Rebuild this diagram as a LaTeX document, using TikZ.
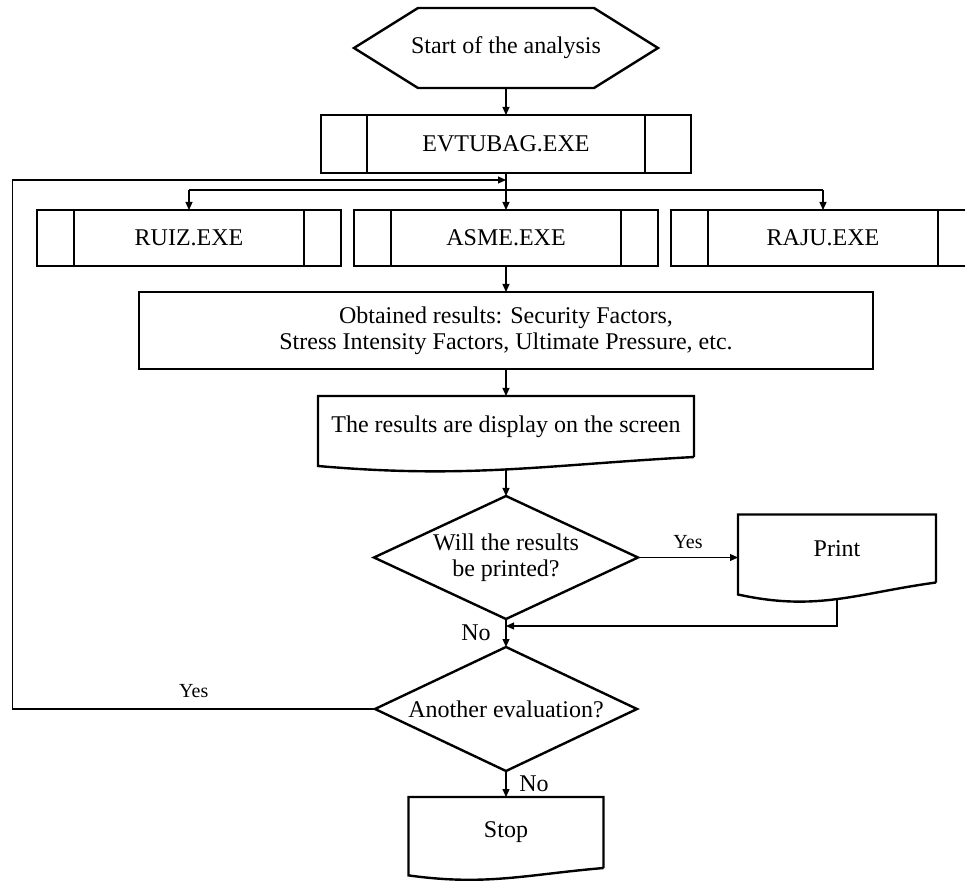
\documentclass[tikz,border=0pt]{standalone}
\usepackage{fontspec}
\setmainfont{Liberation Serif}
\usetikzlibrary{arrows.meta, positioning, shapes.geometric, calc}

% hexagon outline round a (blank) node
\newcommand{\hexframe}[2]{%
  \draw[frameline] (#1.west) -- ([xshift=#2]#1.north west) -- ([xshift=-#2]#1.north east)
    -- (#1.east) -- ([xshift=-#2]#1.south east) -- ([xshift=#2]#1.south west) -- cycle;}
% document outline, wavy bottom edge
\newcommand{\docframe}[2]{%
  \draw[frameline] (#1.south east) -- (#1.north east) -- (#1.north west) -- ([yshift=-#2]#1.south west)
    .. controls ($(#1.south west)!0.4!(#1.south east)+(0,-2.45*#2)$) and ($(#1.south west)!0.6!(#1.south east)+(0,-0.9*#2)$) .. (#1.south east)
    coordinate[pos=0.5] (#1-out);}

\begin{document}
\begin{tikzpicture}[
    node distance=13.5pt and 6.5pt,
    every node/.style={font=\fontsize{12}{13}\selectfont},
    frameline/.style={line width=1.2pt, line join=miter},
    hexnode/.style={minimum width=152pt, minimum height=40pt, inner sep=0pt, outer sep=0pt},
    docnode/.style={inner sep=0pt, outer sep=0pt},
    subproc/.style={draw, line width=1.2pt, outer sep=0pt, minimum width=152pt, minimum height=28pt,
        path picture={\draw[line width=0.9pt] ([xshift=#1]path picture bounding box.north west) -- ([xshift=#1]path picture bounding box.south west)
            ([xshift=-#1]path picture bounding box.north east) -- ([xshift=-#1]path picture bounding box.south east);}},
    process/.style={draw, line width=1.2pt, outer sep=0pt, minimum width=367pt, minimum height=38.5pt, align=center},
    decision/.style={diamond, draw, line width=1.2pt, outer sep=0pt, aspect=2.15, inner sep=0pt, align=center},
    conn/.style={line width=0.6pt},
    arrow/.style={conn, -{Triangle[length=4pt, width=3.5pt]}},
    yeslabel/.style={font=\fontsize{10}{12}\selectfont}
]
    \useasboundingbox (0,0) rectangle (482.5pt,-441pt);
    \clip (0,0) rectangle (482.5pt,-441pt);

    % Nodes
    \node[hexnode] (start) at (253pt,-24pt) {Start of the analysis};
    \hexframe{start}{32pt}
    \node[subproc=23pt, minimum width=185pt, minimum height=29pt] (evtubag) [below=of start] {EVTUBAG.EXE};
    \node[subproc=18.5pt] (asme) [below=18.5pt of evtubag] {ASME.EXE};
    \node[subproc=18.5pt] (ruiz) [left=of asme] {RUIZ.EXE};
    \node[subproc=18.5pt] (raju) [right=of asme] {RAJU.EXE};
    \node[process] (results) [below=13pt of asme] {Obtained results: Security Factors,\\Stress Intensity Factors, Ultimate Pressure, etc.};
    \node[docnode, minimum width=188pt, minimum height=30.5pt] (display) [below=of results] {The results are display on the screen};
    \docframe{display}{4.5pt}
    \node[decision, minimum width=132pt, minimum height=61.5pt] (printq) [below=19.5pt of display] {Will the results\\be printed?};
    \node[docnode, minimum width=99pt, minimum height=34pt] (print) [right=50pt of printq, yshift=4.5pt] {Print};
    \docframe{print}{6pt}
    \node[decision, minimum width=131pt, minimum height=62pt] (againq) [below=14pt of printq] {Another evaluation?};
    \node[docnode, minimum width=97.5pt, minimum height=35.5pt] (stop) [below=13pt of againq] {Stop};
    \docframe{stop}{3.7pt}

    \coordinate (loopin) at ([yshift=-3.5pt]evtubag.south);
    \coordinate (split) at ([yshift=-8.5pt]evtubag.south);
    \coordinate (merge) at ([yshift=-3.5pt]printq.south);
    \coordinate (back) at (6.25pt,0);

    % Arrows
    \draw[arrow] (start) -- (evtubag);
    \draw[arrow] (evtubag) -- (asme);
    \draw[conn] (split -| ruiz) -- (split -| raju);
    \draw[arrow] (split -| ruiz) -- (ruiz);
    \draw[arrow] (split -| raju) -- (raju);
    \draw[arrow] (asme) -- (results);
    \draw[arrow] (results) -- (display);
    \draw[arrow] (display-out) -- (printq);
    \draw[arrow] (printq.east) -- node[yeslabel, above=1pt] {Yes} (printq.east -| print.west);
    \draw[arrow] (print-out) |- (merge);
    \draw[arrow] (printq) -- node[left=4pt] {No} (againq);
    \draw[arrow] (againq.west) -- node[yeslabel, above=2pt] {Yes} (againq.west -| back) |- (loopin);
    \draw[arrow] (againq) -- node[right=3pt] {No} (stop);
\end{tikzpicture}
\end{document}
